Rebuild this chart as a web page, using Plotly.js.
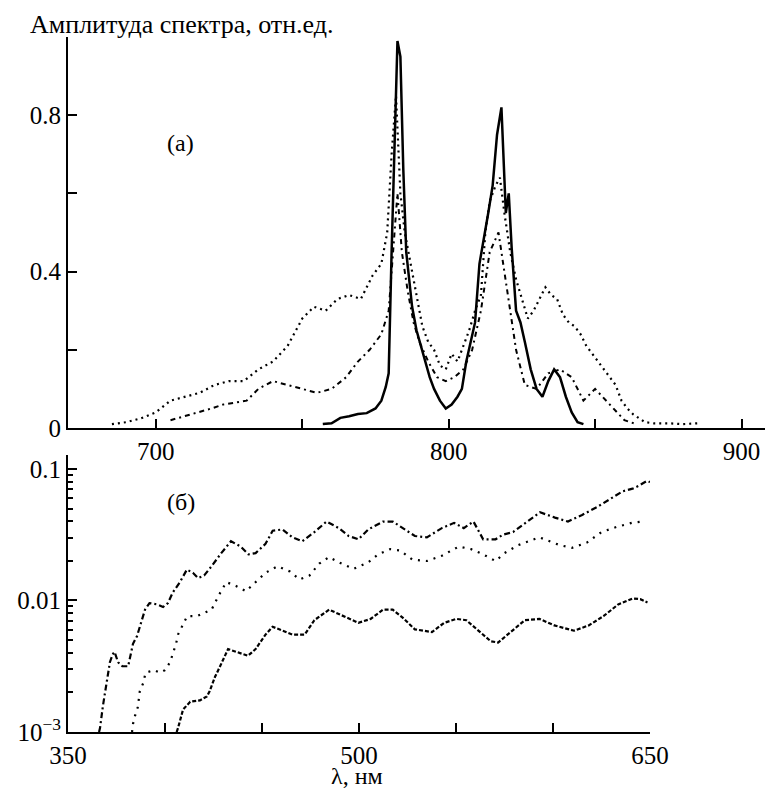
<!DOCTYPE html>
<html>
<head>
<meta charset="utf-8">
<script src="https://cdn.plot.ly/plotly-3.0.1.min.js"></script>
<style>html,body{margin:0;padding:0;background:#fff;}#chart{width:765px;height:791px;}</style>
</head>
<body>
<div id="chart"></div>
<script>
// ---------- Panel (a): spectrum amplitude vs wavelength ----------
const aLambdaNarrow = [757, 760, 763, 766, 769, 772, 775, 777, 778.5, 779.5, 780.5, 781.5, 782.5, 783.5, 784.5, 785.5, 786.5, 787.5, 789, 790.5, 792, 793.5, 795, 797, 799, 801, 803, 804.5, 806, 807.5, 809, 810.5, 812, 813.5, 815, 816.5, 818, 819.5, 820.5, 821.5, 823, 824.5, 826, 828, 830, 832, 834, 836, 838, 840, 842, 844, 846];
const aValNarrow = [0.01, 0.012, 0.026, 0.03, 0.036, 0.038, 0.05, 0.07, 0.105, 0.14, 0.45, 0.75, 0.99, 0.95, 0.66, 0.45, 0.38, 0.31, 0.25, 0.21, 0.17, 0.13, 0.1, 0.07, 0.05, 0.06, 0.08, 0.1, 0.17, 0.22, 0.27, 0.42, 0.48, 0.55, 0.62, 0.75, 0.82, 0.55, 0.6, 0.46, 0.3, 0.27, 0.22, 0.15, 0.1, 0.08, 0.12, 0.15, 0.13, 0.08, 0.04, 0.015, 0.01];

const aLambdaBroad = [685, 690, 695, 700, 705, 710, 715, 720, 725, 730, 735, 740, 745, 750, 754, 758, 762, 766, 770, 774, 777, 779, 780.5, 782, 783.5, 785, 787, 789, 791, 793, 795, 797, 799, 801, 803, 805, 807, 809, 811, 812.5, 814, 816, 817.5, 819, 821, 823, 825, 827, 829, 831, 833, 835, 837, 839, 841, 843, 845, 847, 849, 851, 853, 855, 857, 859, 861, 863, 865, 867, 870, 875, 880, 885];
const aValBroad = [0.01, 0.015, 0.025, 0.04, 0.07, 0.08, 0.09, 0.11, 0.12, 0.12, 0.15, 0.17, 0.21, 0.28, 0.31, 0.3, 0.33, 0.34, 0.33, 0.39, 0.42, 0.5, 0.7, 0.85, 0.6, 0.5, 0.42, 0.33, 0.26, 0.22, 0.2, 0.16, 0.15, 0.19, 0.17, 0.21, 0.25, 0.3, 0.34, 0.5, 0.58, 0.62, 0.64, 0.55, 0.45, 0.38, 0.33, 0.28, 0.3, 0.33, 0.36, 0.34, 0.33, 0.29, 0.27, 0.26, 0.24, 0.21, 0.19, 0.17, 0.15, 0.13, 0.11, 0.07, 0.05, 0.035, 0.025, 0.015, 0.012, 0.012, 0.01, 0.012];

const aLambdaLower = [705, 711, 715, 719, 723, 727, 731, 735, 740, 745, 750, 755, 760, 765, 769, 773, 777, 779.5, 781, 782.5, 784, 786, 788, 790, 793, 796, 799, 802, 805, 808, 811, 814, 817, 820, 823, 826, 830, 834, 838, 842, 846, 850, 855, 860, 864];
const aValLower = [0.02, 0.033, 0.04, 0.05, 0.06, 0.065, 0.07, 0.1, 0.12, 0.11, 0.1, 0.09, 0.1, 0.13, 0.17, 0.2, 0.24, 0.3, 0.45, 0.6, 0.45, 0.35, 0.27, 0.22, 0.17, 0.13, 0.12, 0.13, 0.15, 0.2, 0.3, 0.45, 0.5, 0.35, 0.2, 0.11, 0.1, 0.14, 0.15, 0.13, 0.07, 0.1, 0.06, 0.02, 0.01];

const aTickVals = [0, 0.2, 0.4, 0.6, 0.8];
const aTickText = ['0', '', '0.4', '', '0.8'];
const aXTickVals = [700, 750, 800, 850, 900];
const aXTickText = ['700', '', '800', '', '900'];

// ---------- Panel (б): log-scale spectra ----------
const bLambdaUpper = [366, 366.5, 368, 370, 371.6, 373, 374, 375.8, 378, 381, 383.5, 385.6, 388, 389.7, 392, 395.9, 399, 401.5, 404, 407.7, 411.3, 414.4, 417, 420.2, 424, 429, 434, 439, 443, 446.7, 451.8, 455.5, 460.6, 465.6, 470.7, 477, 483.3, 489.6, 494.7, 499.7, 504.8, 512.4, 517.4, 522.5, 528.8, 535, 542.7, 549, 554, 559, 564, 570.4, 574.2, 579.4, 586.6, 593.3, 601, 607.7, 615, 622.7, 630.4, 636, 641, 644, 648.5, 650];
const bValUpper = [0.001, 0.00107, 0.00158, 0.0024, 0.00339, 0.00389, 0.00407, 0.00339, 0.00316, 0.00316, 0.00468, 0.00537, 0.00724, 0.00851, 0.00955, 0.00933, 0.00891, 0.00955, 0.01148, 0.0138, 0.01718, 0.01622, 0.01479, 0.01549, 0.0182, 0.02291, 0.02818, 0.0257, 0.02239, 0.02291, 0.02692, 0.03388, 0.03467, 0.0302, 0.02818, 0.03311, 0.03981, 0.03548, 0.0309, 0.02917, 0.03467, 0.03981, 0.03981, 0.03548, 0.0309, 0.0302, 0.03548, 0.0389, 0.03548, 0.03981, 0.02917, 0.02917, 0.0316, 0.03311, 0.03981, 0.04677, 0.04266, 0.03981, 0.04467, 0.05129, 0.06026, 0.06761, 0.07079, 0.07413, 0.08128, 0.0794];

const bLambdaMiddle = [383, 383.5, 384.5, 386, 387, 388.7, 390, 394.3, 397.4, 400, 402.6, 404, 405.7, 406.7, 411.4, 413, 416.4, 424, 427.8, 431.6, 436.6, 441.7, 446.7, 451.8, 458, 464.4, 469.4, 474.5, 479.5, 484.6, 489.6, 497.2, 504.8, 509.8, 516.1, 521.2, 527.5, 535, 542.7, 551.5, 557.8, 564, 570.4, 575, 582, 593, 603.6, 609.8, 617.5, 625, 633, 640.7, 646];
const bValMiddle = [0.001, 0.00115, 0.00132, 0.00155, 0.00204, 0.00234, 0.00282, 0.00295, 0.00282, 0.00295, 0.00339, 0.00389, 0.00468, 0.0055, 0.00759, 0.00759, 0.00759, 0.00851, 0.011, 0.0138, 0.01288, 0.01175, 0.0138, 0.01622, 0.0182, 0.0166, 0.01445, 0.01549, 0.01905, 0.02138, 0.0195, 0.01738, 0.0195, 0.02239, 0.02455, 0.02399, 0.02042, 0.01995, 0.02188, 0.0257, 0.02455, 0.02239, 0.01995, 0.02291, 0.0263, 0.0302, 0.0263, 0.02512, 0.02754, 0.03311, 0.03631, 0.0389, 0.03981];

const bLambdaLower = [406, 406.7, 409.3, 413, 418, 421.6, 423, 425.8, 428.4, 432.5, 438.7, 442.8, 446.7, 451.8, 455.5, 460.6, 465.6, 472, 477, 484.6, 492, 499.7, 506, 512.4, 517.4, 522.5, 528.8, 537.6, 543.9, 550.2, 555.3, 561.6, 567.9, 571.7, 578, 585.5, 593, 600.7, 610.8, 618.4, 626, 633.6, 641, 645, 648.7];
const bValLower = [0.001, 0.00107, 0.00148, 0.0017, 0.00174, 0.00186, 0.00204, 0.00263, 0.00316, 0.00427, 0.00398, 0.0038, 0.00427, 0.0055, 0.00631, 0.00589, 0.0055, 0.0055, 0.00708, 0.00851, 0.00759, 0.00676, 0.00724, 0.00851, 0.00851, 0.00741, 0.00603, 0.00575, 0.00676, 0.00724, 0.00708, 0.00589, 0.0049, 0.00479, 0.00575, 0.00708, 0.00724, 0.00646, 0.00589, 0.00646, 0.00759, 0.00933, 0.01035, 0.01023, 0.00966];

const bYTickVals = [0.001, 0.01, 0.1];
const bYTickText = ['10<sup>\u22123</sup>', '0.01', '0.1'];
const bYMinorVals = [0.002, 0.003, 0.004, 0.005, 0.006, 0.007, 0.008, 0.009, 0.02, 0.03, 0.04, 0.05, 0.06, 0.07, 0.08, 0.09];
const bXTickVals = [350, 400, 450, 500, 550, 600, 650];
const bXTickText = ['350', '', '', '500', '', '', '650'];

const yLabel = 'Амплитуда спектра, отн.ед.';
const xLabel = 'λ, нм';
const panelA = '(а)';
const panelB = '(б)';

const FONT = '"Times New Roman", "Liberation Serif", "DejaVu Serif", serif';
const ink = '#000';

const traces = [
  {x: aLambdaBroad, y: aValBroad, xaxis: 'x', yaxis: 'y', mode: 'lines',
   line: {color: ink, width: 2.2, dash: '2px,4px'}},
  {x: aLambdaLower, y: aValLower, xaxis: 'x', yaxis: 'y', mode: 'lines',
   line: {color: ink, width: 2, dash: '5px,4px,2px,4px'}},
  {x: aLambdaNarrow, y: aValNarrow, xaxis: 'x', yaxis: 'y', mode: 'lines',
   line: {color: ink, width: 2.5}},
  {x: bLambdaUpper, y: bValUpper, xaxis: 'x2', yaxis: 'y2', mode: 'lines',
   line: {color: ink, width: 2.2, dash: '6px,3px,2px,3px'}},
  {x: bLambdaMiddle, y: bValMiddle, xaxis: 'x2', yaxis: 'y2', mode: 'lines',
   line: {color: ink, width: 2.2, dash: '2px,6px'}},
  {x: bLambdaLower, y: bValLower, xaxis: 'x2', yaxis: 'y2', mode: 'lines',
   line: {color: ink, width: 2.2, dash: '4px,2px'}}
];

const axisCommon = {
  showline: true, linecolor: ink, linewidth: 2,
  ticks: 'inside', ticklen: 9, tickwidth: 2, tickcolor: ink,
  showgrid: false, zeroline: false, mirror: false,
  tickfont: {family: FONT, size: 25, color: ink}
};

const layout = {
  width: 765, height: 791,
  margin: {l: 68, r: 0, t: 37, b: 59, pad: 0},
  paper_bgcolor: '#fff', plot_bgcolor: '#fff',
  showlegend: false,
  font: {family: FONT, color: ink},
  xaxis: Object.assign({}, axisCommon, {
    domain: [0, 1], anchor: 'y', range: [670, 908],
    tickmode: 'array', tickvals: aXTickVals, ticktext: aXTickText
  }),
  yaxis: Object.assign({}, axisCommon, {
    domain: [0.4374, 1], anchor: 'x', range: [0, 1.0],
    tickmode: 'array', tickvals: aTickVals, ticktext: aTickText
  }),
  xaxis2: Object.assign({}, axisCommon, {
    domain: [0, 0.835], anchor: 'y2', range: [350, 650],
    tickmode: 'array', tickvals: bXTickVals, ticktext: bXTickText
  }),
  yaxis2: Object.assign({}, axisCommon, {
    domain: [0, 0.3986], anchor: 'x2', type: 'log', range: [-3, -0.894],
    tickmode: 'array', tickvals: bYTickVals, ticktext: bYTickText,
    minor: {tickmode: 'array', tickvals: bYMinorVals, ticks: 'inside', ticklen: 5, tickwidth: 2, tickcolor: ink, showgrid: false}
  }),
  annotations: [
    {text: yLabel, xref: 'paper', yref: 'paper', x: -0.0574, y: 1.0187,
     xanchor: 'left', yanchor: 'middle', showarrow: false,
     font: {family: FONT, size: 26, color: ink}},
    {text: panelA, xref: 'x', yref: 'y', x: 708.5, y: 0.729,
     xanchor: 'center', yanchor: 'middle', showarrow: false,
     font: {family: FONT, size: 24, color: ink}},
    {text: panelB, xref: 'x2', yref: 'y2', x: 408.2, y: -1.25,
     xanchor: 'center', yanchor: 'middle', showarrow: false,
     font: {family: FONT, size: 24, color: ink}},
    {text: xLabel, xref: 'paper', yref: 'paper', x: 0.4146, y: -0.0849,
     xanchor: 'center', yanchor: 'bottom', showarrow: false,
     font: {family: FONT, size: 24, color: ink}}
  ]
};

Plotly.newPlot('chart', traces, layout, {staticPlot: true, displayModeBar: false});
</script>
</body>
</html>
